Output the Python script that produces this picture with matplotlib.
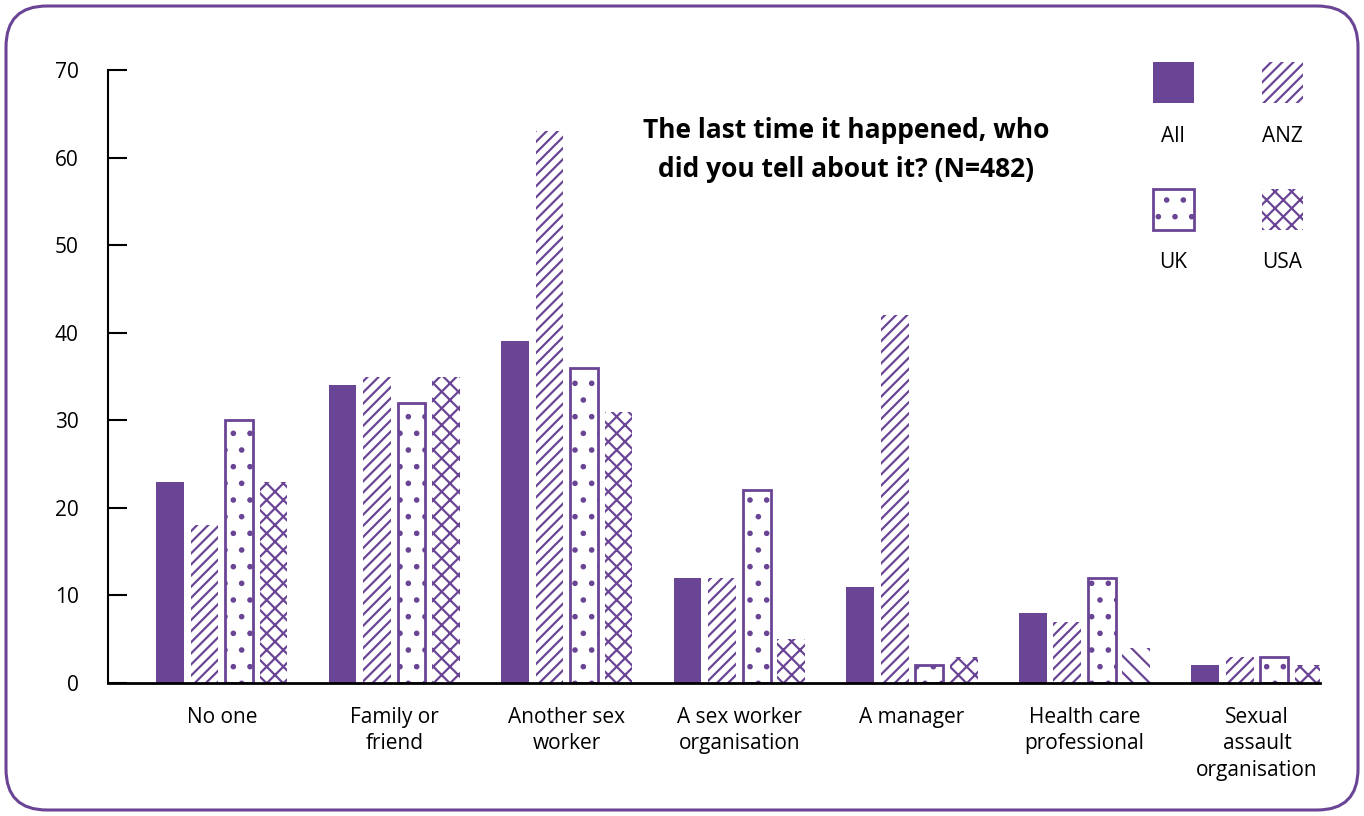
import numpy as np
import matplotlib.pyplot as plt
from matplotlib.patches import Rectangle, FancyBboxPatch

# survey data
categories = ['No one', 'Family or\nfriend', 'Another sex\nworker', 'A sex worker\norganisation',
              'A manager', 'Health care\nprofessional', 'Sexual\nassault\norganisation']
all_vals = [23, 34, 39, 12, 11, 8, 2]
anz_vals = [18, 35, 63, 12, 42, 7, 3]
uk_vals = [30, 32, 36, 22, 2, 12, 3]
usa_vals = [23, 35, 31, 5, 3, 4, 2]
series_names = ['All', 'ANZ', 'UK', 'USA']
title = 'The last time it happened, who\ndid you tell about it? (N=482)'

purple = '#6A4596'
plt.rcParams['font.family'] = ['Open Sans', 'DejaVu Sans']
plt.rcParams['hatch.linewidth'] = 1.6
plt.rcParams['hatch.color'] = purple

fig = plt.figure(figsize=(13.64, 8.16), dpi=100)
ax = fig.add_axes([108/1364, 1-683/816, (1320-108)/1364, (683-70)/816])

x = np.arange(len(categories))
w = 0.16
step = 0.2

ax.bar(x - 1.5*step, all_vals, w, color=purple, linewidth=0)
ax.bar(x - 0.5*step, anz_vals, w, facecolor='white', edgecolor=purple, linewidth=0, hatch='///')
ax.bar(x + 0.5*step, uk_vals, w, facecolor='white', edgecolor=purple, linewidth=2, hatch='.')
usa_bars = ax.bar(x + 1.5*step, usa_vals, w, facecolor='white', edgecolor=purple, linewidth=0, hatch='xx')
# this one shows only one diagonal in the original
usa_bars[5].set_hatch('\\\\')

ax.set_xlim(-0.66, 6.365)
ax.set_ylim(0, 70)
ax.set_yticks(range(0, 71, 10))
ax.set_xticks(x)
ax.set_xticklabels(categories, fontsize=15, linespacing=1.35)
ax.tick_params(axis='x', length=0, pad=17)
ax.tick_params(axis='y', direction='in', length=14, width=1.5, pad=21, labelsize=15)
for s in ['top', 'right']:
    ax.spines[s].set_visible(False)
ax.spines['left'].set_linewidth(1.5)
ax.spines['bottom'].set_linewidth(2)

fig.text(846/1364, 1-150/816, title, ha='center', va='center', fontsize=19,
         fontweight='bold', linespacing=1.55)

# legend drawn by hand, labels under the swatches
legend_pos = [(1153, 62), (1262, 62), (1153, 189), (1262, 189)]
styles = [dict(facecolor=purple, linewidth=0),
          dict(facecolor='white', edgecolor=purple, linewidth=0, hatch='///'),
          dict(facecolor='white', edgecolor=purple, linewidth=2, hatch='.'),
          dict(facecolor='white', edgecolor=purple, linewidth=0, hatch='xx')]
for (px, py), name, st in zip(legend_pos, series_names, styles):
    fig.add_artist(Rectangle((px/1364, 1-(py+41)/816), 41/1364, 41/816,
                             transform=fig.transFigure, **st))
    fig.text((px+20)/1364, 1-(py+74)/816, name, ha='center', va='center', fontsize=15)

fig.add_artist(FancyBboxPatch((6/1364, 6/816), 1352/1364, 804/816,
                              boxstyle='round,pad=0,rounding_size=0.03',
                              transform=fig.transFigure, facecolor='none',
                              edgecolor=purple, linewidth=2.2,
                              mutation_aspect=1364/816))

fig.savefig('out.png', dpi=100)
